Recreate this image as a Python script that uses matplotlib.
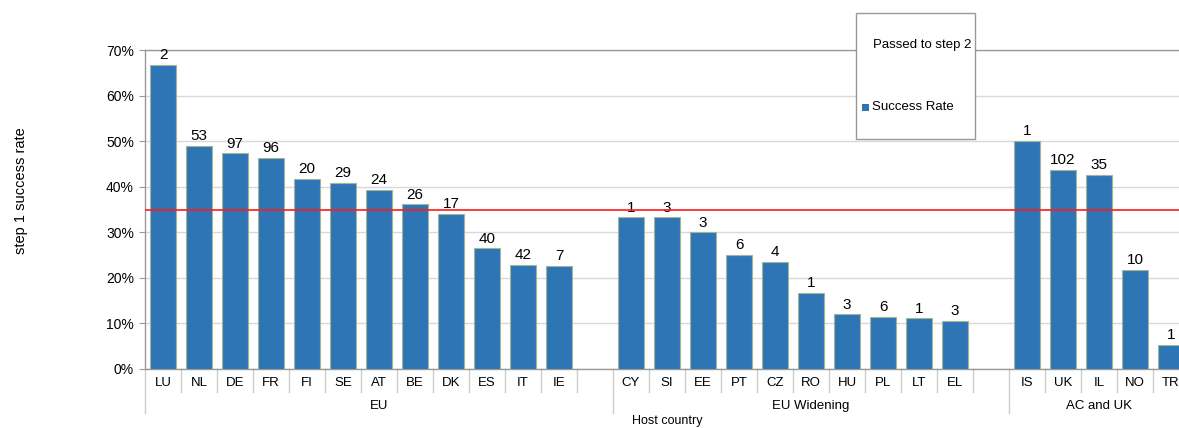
import matplotlib
matplotlib.use("Agg")
import matplotlib.pyplot as plt
from matplotlib.patches import Rectangle
import matplotlib.transforms as mtransforms

plt.rcParams['font.family'] = ['Liberation Sans', 'DejaVu Sans']

# data
eu_codes = ['LU', 'NL', 'DE', 'FR', 'FI', 'SE', 'AT', 'BE', 'DK', 'ES', 'IT', 'IE']
eu_rate = [66.7, 49.0, 47.3, 46.4, 41.7, 40.8, 39.3, 36.1, 34.0, 26.5, 22.9, 22.6]
eu_passed = [2, 53, 97, 96, 20, 29, 24, 26, 17, 40, 42, 7]

wid_codes = ['CY', 'SI', 'EE', 'PT', 'CZ', 'RO', 'HU', 'PL', 'LT', 'EL']
wid_rate = [33.3, 33.3, 30.0, 25.0, 23.5, 16.7, 12.0, 11.5, 11.1, 10.6]
wid_passed = [1, 3, 3, 6, 4, 1, 3, 6, 1, 3]

ac_codes = ['IS', 'UK', 'IL', 'NO', 'TR']
ac_rate = [50.0, 43.7, 42.6, 21.7, 5.3]
ac_passed = [1, 102, 35, 10, 1]

groups = ['EU', 'EU Widening', 'AC and UK']
threshold = 35

# build slots: each group followed by one empty slot
group_data = [(eu_codes, eu_rate, eu_passed), (wid_codes, wid_rate, wid_passed),
              (ac_codes, ac_rate, ac_passed)]
xs, labels, rates, passed = [], [], [], []
group_ranges = []
pos = 0
for i, (c, r, p) in enumerate(group_data):
    start = pos
    for code, rate, n in zip(c, r, p):
        xs.append(pos)
        labels.append(code)
        rates.append(rate)
        passed.append(n)
        pos += 1
    if i < len(group_data) - 1:
        pos += 1  # blank slot
    group_ranges.append((start, pos))
n_slots = pos

fig = plt.figure(figsize=(11.79, 4.28), dpi=100)
ax = fig.add_axes([145 / 1179, 59 / 428, 36 * n_slots / 1179, 319 / 428])

bar_color = '#2e75b6'
ax.bar(xs, rates, width=0.72, color=bar_color, edgecolor='#a3b597', linewidth=0.8, zorder=3)
for x, r, n in zip(xs, rates, passed):
    ax.text(x, r + 0.6, str(n), ha='center', va='bottom', fontsize=11, zorder=4)

ax.axhline(threshold, color='#ff1a1a', linewidth=1.2, zorder=5)

ax.set_xlim(-0.5, n_slots - 0.5)
ax.set_ylim(0, 70)
ax.set_yticks(range(0, 71, 10))
ax.set_yticklabels([f'{v}%' for v in range(0, 71, 10)], fontsize=10)
ax.set_xticks([])
ax.yaxis.grid(True, color='#d9d9d9', linewidth=1, zorder=0)
ax.set_axisbelow(True)
ax.tick_params(axis='y', length=4, color='#999999', pad=4)
ax.spines['right'].set_visible(False)
for s in ['left', 'top', 'bottom']:
    ax.spines[s].set_color('#999999')
    ax.spines[s].set_linewidth(1)

ax.set_ylabel('step 1 success rate', fontsize=10.5)
ax.yaxis.set_label_coords(-0.112, 0.56)

# category labels and dividers below the axis
trans = mtransforms.blended_transform_factory(ax.transData, ax.transAxes)
for x, lab in zip(xs, labels):
    ax.text(x, -0.045, lab, transform=trans, ha='center', va='center', fontsize=9.5)
group_starts = [g[0] for g in group_ranges]
for k in range(n_slots + 1):
    bx = k - 0.5
    depth = -0.138 if k in group_starts else -0.072
    ax.plot([bx, bx], [0, depth], transform=trans, color='#cccccc', lw=1, clip_on=False)
for g, (a, b) in zip(groups, group_ranges):
    ax.text((a + b - 1) / 2, -0.116, g, transform=trans, ha='center', va='center', fontsize=9.5)
ax.text(0.5, -0.163, 'Host country', transform=ax.transAxes, ha='center', va='center', fontsize=9)

# legend box
box = Rectangle((856 / 1179, 1 - 139 / 428), 119 / 1179, 126 / 428, transform=fig.transFigure,
                facecolor='white', edgecolor='#999999', linewidth=1, zorder=10)
fig.patches.append(box)
fig.text(971 / 1179, 1 - 45 / 428, 'Passed to step 2', ha='right', va='center', fontsize=9.5, zorder=11)
sq = Rectangle((862 / 1179, 1 - 111 / 428), 7 / 1179, 7 / 428, transform=fig.transFigure,
               facecolor=bar_color, edgecolor='none', zorder=11)
fig.patches.append(sq)
fig.text(872 / 1179, 1 - 107 / 428, 'Success Rate', ha='left', va='center', fontsize=9.5, zorder=11)

fig.savefig('out.png', dpi=100)
